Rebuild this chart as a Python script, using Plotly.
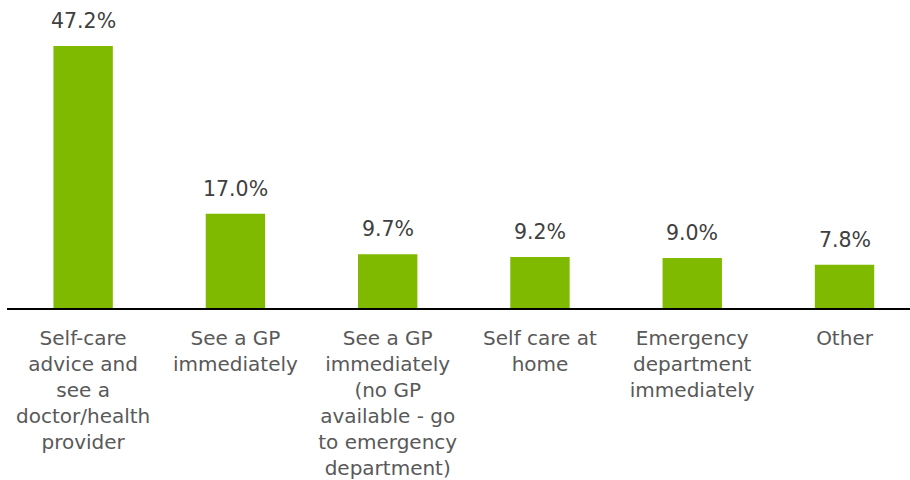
import plotly.graph_objects as go

# Survey responses: recommended course of action
categories = [
    "Self-care<br>advice and<br>see a<br>doctor/health<br>provider",
    "See a GP<br>immediately",
    "See a GP<br>immediately<br>(no GP<br>available - go<br>to emergency<br>department)",
    "Self care at<br>home",
    "Emergency<br>department<br>immediately",
    "Other",
]
shares = [47.2, 17.0, 9.7, 9.2, 9.0, 7.8]

BAR_COLOR = "#7FBA00"
FONT = "DejaVu Sans, Verdana, sans-serif"

fig = go.Figure(
    go.Bar(
        x=categories,
        y=shares,
        width=0.39,
        marker=dict(color=BAR_COLOR, line=dict(width=0)),
        hoverinfo="skip",
    )
)

# Percentage labels above each bar
for cat, val in zip(categories, shares):
    fig.add_annotation(
        x=cat, y=val, text=f"{val:.1f}%",
        showarrow=False, yanchor="bottom", yshift=11,
        font=dict(family=FONT, size=20.5, color="#404040"),
    )

fig.update_layout(
    width=910, height=480,
    margin=dict(l=7, r=0, t=11, b=168.5),
    paper_bgcolor="white", plot_bgcolor="white",
    showlegend=False,
    font=dict(family=FONT, size=20, color="#595959"),
    xaxis=dict(
        range=[-0.5, 5.43],
        showline=True, linecolor="black", linewidth=2,
        showgrid=False, ticks="", tickangle=0,
        ticklabelstandoff=11,
        tickfont=dict(family=FONT, size=20, color="#595959"),
    ),
    yaxis=dict(range=[0, 53.5], visible=False, showgrid=False),
)

fig.write_html("out.html")
